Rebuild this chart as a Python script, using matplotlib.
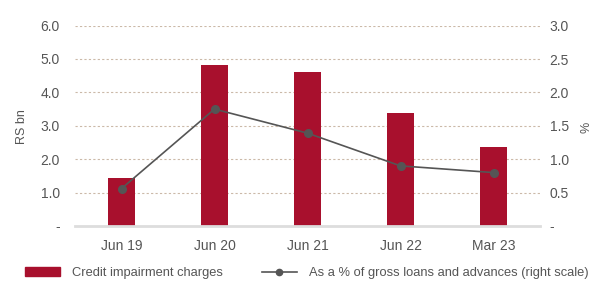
import matplotlib
matplotlib.use("Agg")
import matplotlib.pyplot as plt
from matplotlib.patches import Patch
from matplotlib.lines import Line2D

categories = ["Jun 19", "Jun 20", "Jun 21", "Jun 22", "Mar 23"]
impairment = [1.45, 4.82, 4.60, 3.37, 2.38]
pct_loans = [0.56, 1.75, 1.39, 0.90, 0.80]
left_ticks = [0, 1, 2, 3, 4, 5, 6]
left_labels = ["-", "1.0", "2.0", "3.0", "4.0", "5.0", "6.0"]
right_ticks = [0, 0.5, 1.0, 1.5, 2.0, 2.5, 3.0]
right_labels = ["-", "0.5", "1.0", "1.5", "2.0", "2.5", "3.0"]

plt.rcParams['font.family'] = ['Liberation Sans', 'DejaVu Sans']
txt = "#555555"
bar_c = "#a8102d"
grid_c = "#cbb9a8"

fig = plt.figure(figsize=(5.93, 2.81), dpi=100)
ax = fig.add_axes([75/593, 1-226/281, (540-75)/593, (226-25.6)/281])
x = list(range(len(categories)))
ax.bar(x, impairment, width=0.30, color=bar_c, zorder=3)
ax.set_xlim(-0.5, 4.5)
ax.set_ylim(0, 6)
ax.set_yticks(left_ticks)
ax.set_yticklabels(left_labels)
ax.set_xticks(x)
ax.set_xticklabels(categories)
for s in ["top", "right", "left"]:
    ax.spines[s].set_visible(False)
ax.spines["bottom"].set_color("#dddddd")
ax.spines["bottom"].set_linewidth(2)
ax.spines["bottom"].set_zorder(4)
ax.tick_params(axis="both", length=0, labelsize=10, colors=txt)
ax.tick_params(axis="y", pad=11)
ax.tick_params(axis="x", pad=9)
for t in left_ticks[1:]:
    ax.axhline(t, color=grid_c, lw=0.8, ls=(0, (2, 2)), zorder=1)

ax2 = ax.twinx()
ax2.plot(x, pct_loans, color="#555555", lw=1.2, marker="o", markersize=5.5, zorder=5)
ax2.set_ylim(0, 3)
ax2.set_yticks(right_ticks)
ax2.set_yticklabels(right_labels)
for s in ["top", "right", "left", "bottom"]:
    ax2.spines[s].set_visible(False)
ax2.tick_params(axis="y", length=0, labelsize=10, colors=txt, pad=7)

fig.text(22/593, 1-127/281, "RS bn", rotation=90, fontsize=9, color=txt,
         ha="center", va="center")
fig.text(587/593, 1-127/281, "%", rotation=90, fontsize=9, color=txt,
         ha="center", va="center")

handles = [Patch(facecolor=bar_c, edgecolor=bar_c),
           Line2D([0], [0], color="#555555", lw=1.2, marker="o", markersize=4.5)]
labels = ["Credit impairment charges", "As a % of gross loans and advances (right scale)"]
leg = fig.legend(handles, labels, loc="center left", bbox_to_anchor=(25/593, 1-273/281),
                 ncol=2, frameon=False, fontsize=9.3, handlelength=2.7,
                 handleheight=0.65, handletextpad=0.95, columnspacing=3.0,
                 borderaxespad=0, borderpad=0)
for t in leg.get_texts():
    t.set_color(txt)

fig.savefig("out.png", dpi=100)
